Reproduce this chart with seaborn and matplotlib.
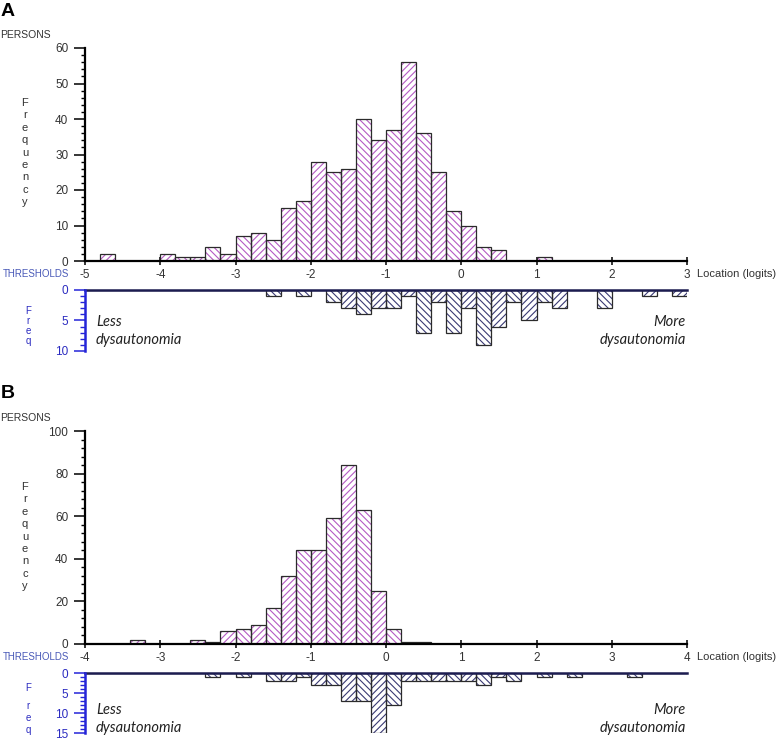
import numpy as np
import pandas as pd
import matplotlib
matplotlib.use("Agg")
import matplotlib.pyplot as plt
import seaborn as sns
from matplotlib.ticker import MultipleLocator

sns.set_theme(style="white")
plt.rcParams['font.family'] = ['Liberation Sans', 'DejaVu Sans']
plt.rcParams['hatch.linewidth'] = 0.8

# ---------------- data (counts per 0.2-logit bin) ----------------
BIN_W = 0.2
a_range = (-5, 3)
b_range = (-4, 4)
a_xticks = [-5, -4, -3, -2, -1, 0, 1, 2, 3]
b_xticks = [-4, -3, -2, -1, 0, 1, 2, 3, 4]

# Panel A persons, bins from -5 to 3
a_persons = [0, 2, 0, 0, 0, 2, 1, 1, 4, 2,
             7, 8, 6, 15, 17, 28, 25, 26, 40, 34,
             37, 56, 36, 25, 14, 10, 4, 3, 0, 0,
             1, 0, 0, 0, 0, 0, 0, 0, 0, 0]
# Panel A thresholds, bins from -5 to 3
a_thresholds = [0, 0, 0, 0, 0, 0, 0, 0, 0, 0,
                0, 0, 1, 0, 1, 0, 2, 3, 4, 3,
                3, 1, 7, 2, 7, 3, 9, 6, 2, 5,
                2, 3, 0, 0, 3, 0, 0, 1, 0, 1]
# Panel B persons, bins from -4 to 4
b_persons = [0, 0, 0, 2, 0, 0, 0, 2, 1, 6,
             7, 9, 17, 32, 44, 44, 59, 84, 63, 25,
             7, 1, 1, 0, 0, 0, 0, 0, 0, 0,
             0, 0, 0, 0, 0, 0, 0, 0, 0, 0]
# Panel B thresholds, bins from -4 to 4
b_thresholds = [0, 0, 0, 0, 0, 0, 0, 0, 1, 0,
                1, 0, 2, 2, 1, 3, 3, 7, 7, 15,
                8, 2, 2, 2, 2, 2, 3, 1, 2, 0,
                1, 0, 1, 0, 0, 0, 1, 0, 0, 0]

PERSON_HATCH = "#b45ac4"
THRESH_HATCH = "#3a3a74"
BAR_EDGE = "#2b2b2b"
BLUE = "#2424d8"
BLUE_TXT = "#2b2bc0"
NAVY = "#1c1c50"
TXT = "#333333"

W, H = 777, 740
fig = plt.figure(figsize=(W / 100, H / 100), dpi=100)


def px_axes(left, top, right, bottom):
    return fig.add_axes([left / W, 1 - bottom / H, (right - left) / W, (bottom - top) / H])


def ftext(x, y, s, **kw):
    kw.setdefault("va", "center")
    fig.text(x / W, 1 - y / H, s, **kw)


def hatched_hist(ax, rng, counts, hatch_color):
    edges = np.round(np.arange(rng[0], rng[1] + BIN_W / 2, BIN_W), 3)
    centers = (edges[:-1] + edges[1:]) / 2
    df = pd.DataFrame({"x": centers, "w": counts})
    bins = [float(e) for e in edges]
    n0 = len(ax.patches)
    sns.histplot(data=df, x="x", weights="w", bins=bins, ax=ax,
                 color="white", alpha=1, linewidth=0)
    for i, p in enumerate(ax.patches[n0:]):
        p.set_facecolor("white")
        p.set_edgecolor(hatch_color)
        p.set_linewidth(0)
        p.set_hatch("/////" if i % 2 else "\\\\\\\\\\")
    n1 = len(ax.patches)
    sns.histplot(data=df, x="x", weights="w", bins=bins, ax=ax,
                 fill=False, color=BAR_EDGE, linewidth=0.9)
    for p in ax.patches[n1:]:
        p.set_edgecolor(BAR_EDGE)
        p.set_linewidth(0.9)
    ax.set_xlabel("")
    ax.set_ylabel("")


def person_panel(top, bottom, rng, counts, ymax, ymajor, yminor, xticks):
    ax = px_axes(85, top, 687, bottom)
    hatched_hist(ax, rng, counts, PERSON_HATCH)
    ax.set_xlim(*rng)
    ax.set_ylim(0, ymax)
    ax.set_facecolor("none")
    for s in ("top", "right"):
        ax.spines[s].set_visible(False)
    for s in ("left", "bottom"):
        ax.spines[s].set_color("black")
        ax.spines[s].set_linewidth(1.6)
        ax.spines[s].set_zorder(5)
    ax.yaxis.set_major_locator(MultipleLocator(ymajor))
    ax.yaxis.set_minor_locator(MultipleLocator(yminor))
    ax.set_xticks(xticks)
    ax.set_xticklabels([str(t) for t in xticks])
    ax.tick_params(axis="y", which="major", direction="out", length=8, width=1.1,
                   color="black", labelsize=8.5, labelcolor=TXT, pad=4, left=True)
    ax.tick_params(axis="y", which="minor", direction="out", length=3, width=1.0,
                   color="black", left=True)
    ax.tick_params(axis="x", which="major", direction="inout", length=6, width=1.1,
                   color="black", labelsize=8.5, labelcolor=TXT, pad=2.5, bottom=True)
    ax.grid(False)
    return ax


def threshold_panel(top, bottom, rng, counts, ymax, yticks):
    ax = px_axes(85, top, 687, bottom)
    hatched_hist(ax, rng, counts, THRESH_HATCH)
    ax.set_xlim(*rng)
    ax.set_ylim(ymax, 0)
    ax.set_facecolor("none")
    ax.spines["right"].set_visible(False)
    ax.spines["bottom"].set_visible(False)
    ax.spines["top"].set_color(NAVY)
    ax.spines["top"].set_linewidth(1.8)
    ax.spines["top"].set_zorder(5)
    ax.spines["left"].set_color(BLUE)
    ax.spines["left"].set_linewidth(1.8)
    ax.spines["left"].set_zorder(6)
    ax.set_xticks([])
    ax.set_yticks(yticks)
    ax.set_yticklabels([str(t) for t in yticks])
    ax.yaxis.set_minor_locator(MultipleLocator(1))
    ax.tick_params(axis="y", which="major", direction="out", length=8, width=1.1,
                   color=BLUE, labelsize=8.5, labelcolor=BLUE_TXT, pad=4, left=True)
    ax.tick_params(axis="y", which="minor", direction="out", length=3.5, width=1.0,
                   color=BLUE, left=True)
    ax.grid(False)
    return ax


# ---------------- Panel A ----------------
person_panel(48, 261, a_range, a_persons, 60, 10, 2, a_xticks)
threshold_panel(290, 351, a_range, a_thresholds, 10, [0, 5, 10])

# ---------------- Panel B ----------------
person_panel(431, 644, b_range, b_persons, 100, 20, 4, b_xticks)
threshold_panel(673, 733, b_range, b_thresholds, 15, [0, 5, 10, 15])

# ---------------- texts ----------------
ital = dict(family=["Lato", "DejaVu Sans"], style="italic", fontsize=10.5, color="#222222")

for (lab, ly, py, axis_y, freq_y0, fq_ys, less_y) in [
    ("A", 12, 35, 274, 103, [311, 321, 331, 341], 322),
    ("B", 393, 418, 657, 487, [688, 706, 718, 730], 710),
]:
    ftext(1, ly, lab, fontsize=14, fontweight="bold", color="black", ha="left")
    ftext(0, py, "PERSONS", fontsize=7.5, color=TXT, ha="left")
    ftext(3, axis_y, "THRESHOLDS", fontsize=7, color="#4a5ab8", ha="left")
    ftext(697, axis_y, "Location (logits)", fontsize=8, color=TXT, ha="left")
    for k, ch in enumerate("Frequency"):
        ftext(25, freq_y0 + k * 12.4, ch, fontsize=8, color=TXT, ha="center")
    for ch, yy in zip("Freq", fq_ys):
        ftext(28, yy, ch, fontsize=7, color=BLUE_TXT, ha="center")
    ftext(96, less_y, "Less", ha="left", **ital)
    ftext(96, less_y + 18, "dysautonomia", ha="left", **ital)
    ftext(686, less_y, "More", ha="right", **ital)
    ftext(686, less_y + 18, "dysautonomia", ha="right", **ital)

fig.savefig("out.png", dpi=100, facecolor="white")
